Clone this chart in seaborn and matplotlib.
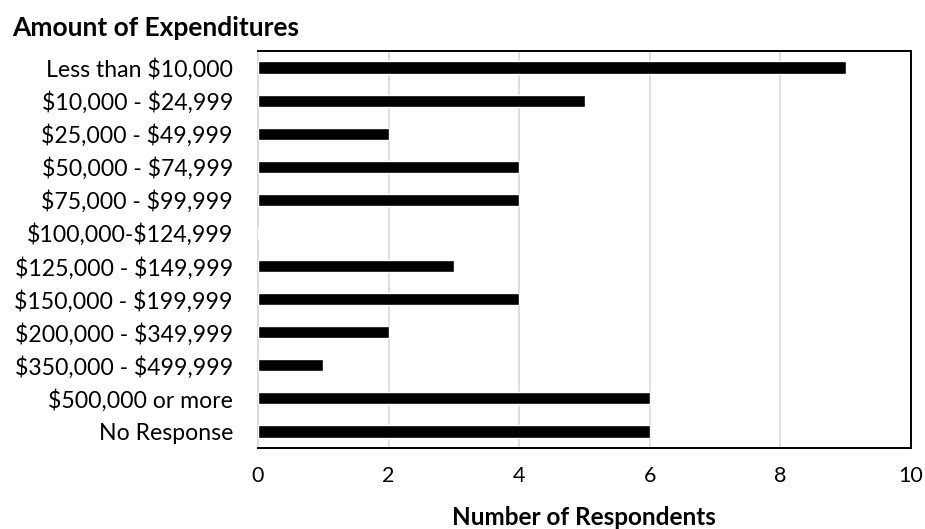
import matplotlib
matplotlib.use("Agg")
import matplotlib.pyplot as plt
import seaborn as sns
import pandas as pd

categories = [
    "Less than $10,000",
    "$10,000 - $24,999",
    "$25,000 - $49,999",
    "$50,000 - $74,999",
    "$75,000 - $99,999",
    "$100,000-$124,999",
    "$125,000 - $149,999",
    "$150,000 - $199,999",
    "$200,000 - $349,999",
    "$350,000 - $499,999",
    "$500,000 or more",
    "No Response",
]
respondents = [9, 5, 2, 4, 4, 0, 3, 4, 2, 1, 6, 6]
x_ticks = [0, 2, 4, 6, 8, 10]

sns.set_theme(style="white")
plt.rcParams["font.family"] = ["Lato", "DejaVu Sans"]
plt.rcParams["text.parse_math"] = False

df = pd.DataFrame({"category": categories, "count": respondents})

fig = plt.figure(figsize=(9.25, 5.29), dpi=100)
ax = fig.add_axes([0.2789, 0.1531, 0.7060, 0.7505])

sns.barplot(data=df, y="category", x="count", orient="h", color="black",
            width=0.365, saturation=1, ax=ax, zorder=3)

ax.set_xlim(0, 10)
ax.set_ylim(11.5, -0.5)
ax.set_xticks(x_ticks)
ax.set_xticklabels([str(t) for t in x_ticks], fontsize=15.5)
ax.tick_params(axis="x", length=0, pad=13)
ax.tick_params(axis="y", length=0, pad=18, labelsize=16.6)
for lbl in ax.get_yticklabels():
    lbl.set_color("black")
for lbl in ax.get_xticklabels():
    lbl.set_color("black")

ax.grid(axis="x", color="#d9d9d9", linewidth=1.2, zorder=0)
ax.set_axisbelow(True)

for side in ["top", "right", "bottom"]:
    ax.spines[side].set_color("black")
    ax.spines[side].set_linewidth(1.4)
ax.spines["left"].set_color("#d9d9d9")
ax.spines["left"].set_linewidth(1.2)

ax.set_ylabel("")
ax.set_xlabel("")

fig.text(0.631, 0.021, "Number of Respondents", fontsize=17.5,
         fontweight="bold", color="black", ha="center", va="center")

fig.text(0.013, 0.947, "Amount of Expenditures", fontsize=19,
         fontweight="bold", color="black", ha="left", va="center")

fig.savefig("out.png", dpi=100)
